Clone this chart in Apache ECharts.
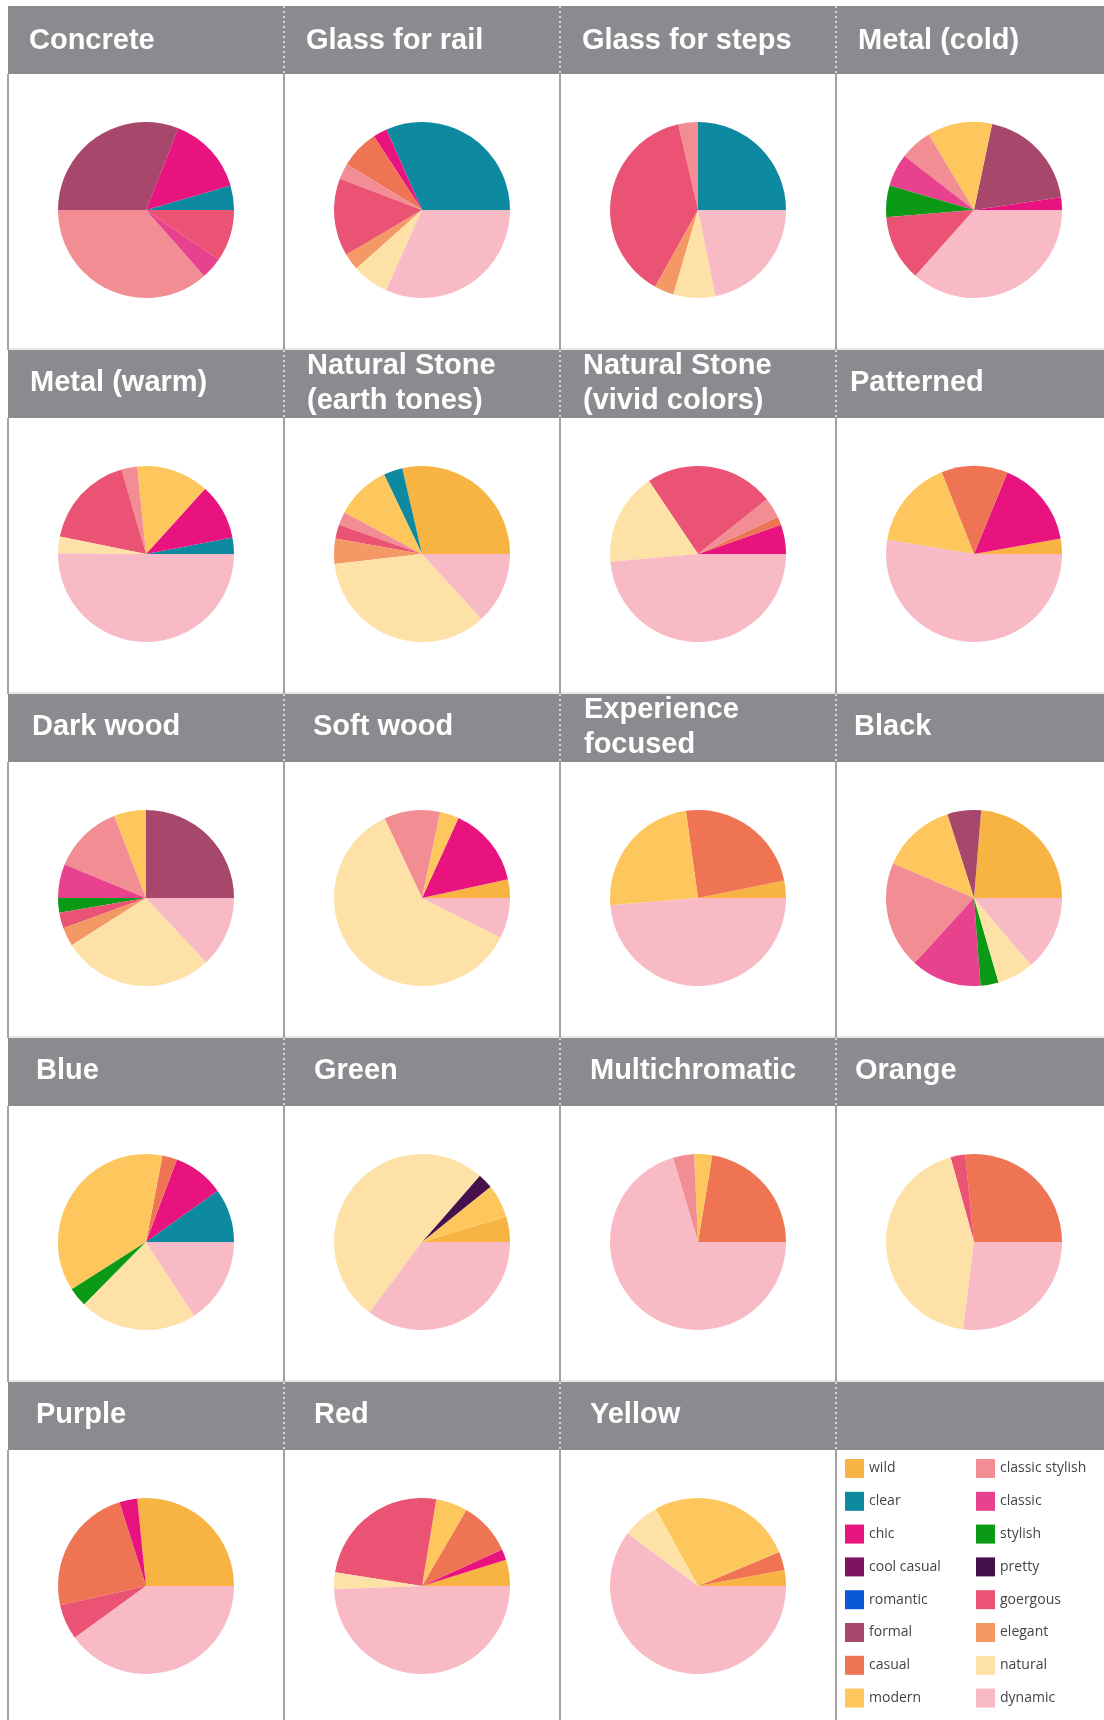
<!DOCTYPE html>
<html>
<head>
<meta charset="utf-8">
<script src="https://cdn.jsdelivr.net/npm/echarts@6/dist/echarts.min.js"></script>
<style>
  html, body { margin: 0; padding: 0; background: #ffffff; }
  #chart { width: 1104px; height: 1720px; }
</style>
</head>
<body>
<div id="chart"></div>
<script>
// ---- categories (legend order = slice order, counter-clockwise from 3 o'clock)
const categories = ['wild','clear','chic','cool casual','romantic','formal','casual','modern',
  'classic stylish','classic','stylish','pretty','goergous','elegant','natural','dynamic'];
const colors = ['#F7B443','#0E8AA0','#E9137F','#7C1463','#0B58D6','#A6476B','#EE7453','#FDC75E',
  '#F28E93','#E8428E','#0A9A16','#45104B','#EA5373','#F49866','#FDE1A6','#F8BAC4'];

// ---- panel titles
const titles = ['Concrete','Glass for rail','Glass for steps','Metal (cold)',
  'Metal (warm)','Natural Stone\n(earth tones)','Natural Stone\n(vivid colors)','Patterned',
  'Dark wood','Soft wood','Experience\nfocused','Black',
  'Blue','Green','Multichromatic','Orange',
  'Purple','Red','Yellow'];

// ---- values (%) per panel, in category order
const concrete   = [0,4.5,14.5,0,0,31,0,0,36.5,4,0,0,9.5,0,0,0];
const glassRail  = [0,31.6,2.6,0,0,0,7.1,0,2.9,0,0,0,14.3,3.1,6.7,31.7];
const glassSteps = [0,25,0,0,0,0,0,0,3.6,0,0,0,38.3,3.6,7.7,21.8];
const metalCold  = [0,0,2.3,0,0,19.4,0,11.9,5.9,6,5.8,0,12.1,0,0,36.6];
const metalWarm  = [0,3,10.3,0,0,0,0,13.3,2.9,0,0,0,17.3,0,3.1,50.1];
const stoneEarth = [28.6,3.5,0,0,0,0,0,10.1,2.4,0,0,0,2.6,4.6,35,13.2];
const stoneVivid = [0,0,5.4,0,0,0,1.5,0,3.8,0,0,0,23.7,0,17,48.6];
const patterned  = [2.8,0,16,0,0,0,12.2,16.4,0,0,0,0,0,0,0,52.6];
const darkWood   = [0,0,0,0,0,25,0,5.9,12.9,6.2,2.7,0,2.9,3.4,28,13];
const softWood   = [3.4,0,14.8,0,0,0,0,3.5,10.3,0,0,0,0,0,60.6,7.4];
const experience = [3.2,0,0,0,0,0,24,24.1,0,0,0,0,0,0,0,48.7];
const black      = [23.7,0,0,0,0,6.2,0,13.7,19.6,13,3.3,0,0,0,6.7,13.8];
const blue       = [0,9.9,9.4,0,0,0,2.7,37,0,0,3.6,0,0,0,21.6,15.8];
const green      = [4.7,0,0,0,0,0,0,6.1,0,0,0,2.8,0,0,51.2,35.2];
const multi      = [0,0,0,0,0,0,22.4,3.3,3.9,0,0,0,0,0,0,70.4];
const orange     = [0,0,0,0,0,0,26.6,0,0,0,0,0,2.7,0,43.7,27];
const purple     = [26.6,0,3.3,0,0,0,23.6,0,0,0,0,0,6.5,0,0,40];
const red        = [4.8,0,2,0,0,0,9.8,5.8,0,0,0,0,25.1,0,3.1,49.4];
const yellow     = [2.9,0,0,0,0,0,3.4,26.7,0,0,0,0,0,0,6.8,60.2];

const panels = [concrete,glassRail,glassSteps,metalCold,metalWarm,stoneEarth,stoneVivid,patterned,
  darkWood,softWood,experience,black,blue,green,multi,orange,purple,red,yellow];

// ---- layout
const X0 = 8, CW = 276, Y0 = 6, HH = 68, RP = 344, BH = RP - HH, W = 1104;
const PIE_R = 88;
const TITLE_DX = [21,22,22,22, 22,23,23,14, 24,29,24,18, 28,30,30,19, 28,30,30];
const TITLE_DY = [2,2,2,2, 0,0,0,0, 0,0,0,0, 0,0,0,0, 0,0,0];

const graphics = [];
for (let r = 0; r < 5; r++) {
  const top = Y0 + r * RP;
  const bodyTop = top + HH;
  graphics.push({ type: 'rect', shape: { x: X0, y: top, width: W - X0, height: HH },
    style: { fill: '#8B8A8F' }, silent: true });
  graphics.push({ type: 'line', shape: { x1: X0, y1: bodyTop + BH - 1, x2: W, y2: bodyTop + BH - 1 },
    style: { stroke: '#d4d4d4', lineWidth: 1 }, silent: true });
  for (let c = 0; c < 4; c++) {
    const x = X0 + c * CW;
    if (c > 0) {
      graphics.push({ type: 'line', shape: { x1: x, y1: top, x2: x, y2: top + HH },
        style: { stroke: '#d6d6d8', lineWidth: 2, lineDash: [2, 3] }, silent: true });
    }
    graphics.push({ type: 'line', shape: { x1: x, y1: bodyTop, x2: x, y2: bodyTop + BH },
      style: { stroke: '#a3a3a3', lineWidth: 2 }, silent: true });
  }
}
titles.forEach((t, i) => {
  const r = Math.floor(i / 4), c = i % 4;
  graphics.push({ type: 'text', silent: true,
    style: { text: t, x: X0 + c * CW + TITLE_DX[i], y: Y0 + r * RP + HH / 2 - 1 + TITLE_DY[i],
      fill: '#ffffff', font: 'bold 29px "Liberation Sans", Arial, sans-serif',
      align: 'left', verticalAlign: 'middle', lineHeight: 35 } });
});

const series = panels.map((vals, i) => {
  const r = Math.floor(i / 4), c = i % 4;
  return {
    type: 'pie',
    name: titles[i],
    center: [X0 + c * CW + CW / 2, Y0 + r * RP + HH + 136],
    radius: PIE_R,
    startAngle: 0,
    clockwise: false,
    silent: true,
    animation: false,
    avoidLabelOverlap: false,
    label: { show: false },
    labelLine: { show: false },
    itemStyle: { borderWidth: 0, borderRadius: 0 },
    data: categories.map((name, k) => ({ name, value: vals[k], itemStyle: { color: colors[k] } }))
  };
});

const legendCommon = {
  orient: 'vertical', top: 1459, padding: 0, itemWidth: 19, itemHeight: 19, itemGap: 13.8,
  icon: 'rect', selectedMode: false,
  textStyle: { fontSize: 14, color: '#444444', fontFamily: '"Open Sans", "Noto Sans", sans-serif' }
};

const chart = echarts.init(document.getElementById('chart'), null, { renderer: 'canvas' });
chart.setOption({
  backgroundColor: '#ffffff',
  animation: false,
  graphic: { elements: graphics },
  legend: [
    Object.assign({}, legendCommon, { left: 845, data: categories.slice(0, 8) }),
    Object.assign({}, legendCommon, { left: 976, data: categories.slice(8) })
  ],
  series
});
</script>
</body>
</html>
